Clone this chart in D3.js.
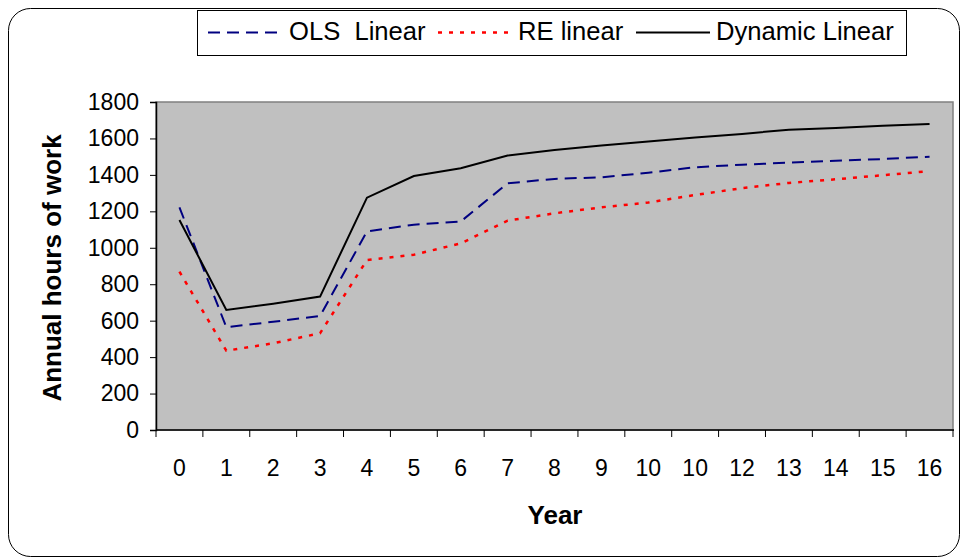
<!DOCTYPE html>
<html>
<head>
<meta charset="utf-8">
<script src="https://cdn.jsdelivr.net/npm/d3@7"></script>
<style>
  html, body { margin: 0; padding: 0; background: #fff; }
  svg { display: block; font-family: "Liberation Sans", Arial, sans-serif; }
</style>
</head>
<body>
<svg id="chart" width="962" height="559"></svg>
<script>
// Year labels along the category axis
const years = ["0","1","2","3","4","5","6","7","8","9","10","10","12","13","14","15","16"];

// Predicted annual hours of work by model
const olsLinear = [1222, 564, 594, 626, 1090, 1127, 1144, 1354, 1378, 1387, 1412, 1442, 1456, 1467, 1478, 1487, 1500];
const reLinear = [869, 435, 476, 531, 933, 962, 1024, 1149, 1189, 1222, 1248, 1290, 1327, 1356, 1376, 1398, 1421];
const dynamicLinear = [1152, 659, 693, 732, 1275, 1394, 1436, 1506, 1537, 1561, 1583, 1605, 1625, 1648, 1657, 1670, 1679];

const yTicks = [0, 200, 400, 600, 800, 1000, 1200, 1400, 1600, 1800];

const seriesNames = ["OLS  Linear", "RE linear", "Dynamic Linear"];
const seriesValues = [olsLinear, reLinear, dynamicLinear];
const seriesStyles = [
  { color: "#000080", width: 2, dash: "12,7" },
  { color: "#ff0000", width: 2.5, dash: "4,7" },
  { color: "#000000", width: 2, dash: null }
];

const svg = d3.select("#chart");
const plot = { left: 156, right: 953, top: 102, bottom: 430 };

// Outer rounded frame
svg.append("rect")
  .attr("x", 8.5).attr("y", 8.5)
  .attr("width", 951).attr("height", 548)
  .attr("rx", 22).attr("ry", 22)
  .attr("fill", "#fff").attr("stroke", "#000").attr("stroke-width", 1);

const idx = d3.range(years.length);
const x = d3.scaleBand().domain(idx).range([plot.left, plot.right]).paddingInner(0).paddingOuter(0);
const y = d3.scaleLinear().domain([0, 1800]).range([plot.bottom, plot.top]);

// Plot area
svg.append("rect")
  .attr("x", plot.left).attr("y", plot.top)
  .attr("width", plot.right - plot.left).attr("height", plot.bottom - plot.top)
  .attr("fill", "#c0c0c0").attr("stroke", "#808080").attr("stroke-width", 1.5);

// Y axis
const yAxis = d3.axisLeft(y).tickValues(yTicks).tickFormat(d3.format("d")).tickSize(6).tickPadding(11);
const gy = svg.append("g").attr("transform", `translate(${plot.left},0)`).call(yAxis);
gy.select(".domain").attr("stroke", "#000").attr("stroke-width", 1.5);
gy.selectAll(".tick line").attr("stroke", "#000").attr("stroke-width", 1);
gy.selectAll(".tick text").attr("font-size", 23).attr("fill", "#000")
  .attr("font-family", "'Liberation Sans', Arial, sans-serif");

// X axis: ticks sit on category boundaries, labels centred in each band
const gx = svg.append("g").attr("transform", `translate(0,${plot.bottom})`);
gx.append("line")
  .attr("x1", plot.left).attr("x2", plot.right + 1)
  .attr("stroke", "#000").attr("stroke-width", 1.5);
const bounds = idx.map(i => x(i)).concat([x(idx[idx.length - 1]) + x.bandwidth()]);
gx.selectAll("line.tk").data(bounds).enter().append("line")
  .attr("class", "tk")
  .attr("x1", d => d).attr("x2", d => d)
  .attr("y1", 0).attr("y2", 7)
  .attr("stroke", "#000").attr("stroke-width", 1);
gx.selectAll("text.lbl").data(idx).enter().append("text")
  .attr("class", "lbl")
  .attr("x", i => x(i) + x.bandwidth() / 2)
  .attr("y", 46)
  .attr("text-anchor", "middle")
  .attr("font-size", 23)
  .text(i => years[i]);

// Axis titles
svg.append("text")
  .attr("transform", `translate(61,${(plot.top + plot.bottom) / 2 + 2}) rotate(-90)`)
  .attr("text-anchor", "middle")
  .attr("font-size", 26).attr("font-weight", "bold")
  .text("Annual hours of work");
svg.append("text")
  .attr("x", 555).attr("y", 524)
  .attr("text-anchor", "middle")
  .attr("font-size", 26).attr("font-weight", "bold")
  .text("Year");

// Series lines
const line = d3.line()
  .x((d, i) => x(i) + x.bandwidth() / 2)
  .y(d => y(d));
seriesValues.forEach((vals, k) => {
  const st = seriesStyles[k];
  svg.append("path")
    .datum(vals)
    .attr("d", line)
    .attr("fill", "none")
    .attr("stroke", st.color)
    .attr("stroke-width", st.width)
    .attr("stroke-dasharray", st.dash)
    .attr("stroke-linejoin", "miter");
});

// Legend
const lg = svg.append("g");
lg.append("rect")
  .attr("x", 197.5).attr("y", 10.5).attr("width", 709).attr("height", 45)
  .attr("fill", "#fff").attr("stroke", "#000").attr("stroke-width", 1);
const legendItems = [
  { x1: 208, x2: 284, tx: 289 },
  { x1: 438, x2: 513, tx: 518 },
  { x1: 636, x2: 710, tx: 716 }
];
legendItems.forEach((it, k) => {
  const st = seriesStyles[k];
  lg.append("line")
    .attr("x1", it.x1).attr("x2", it.x2).attr("y1", 32.5).attr("y2", 32.5)
    .attr("stroke", st.color).attr("stroke-width", st.width)
    .attr("stroke-dasharray", st.dash);
  lg.append("text")
    .attr("x", it.tx).attr("y", 40)
    .attr("font-size", 25.6)
    .attr("xml:space", "preserve")
    .style("white-space", "pre")
    .text(seriesNames[k]);
});
</script>
</body>
</html>
